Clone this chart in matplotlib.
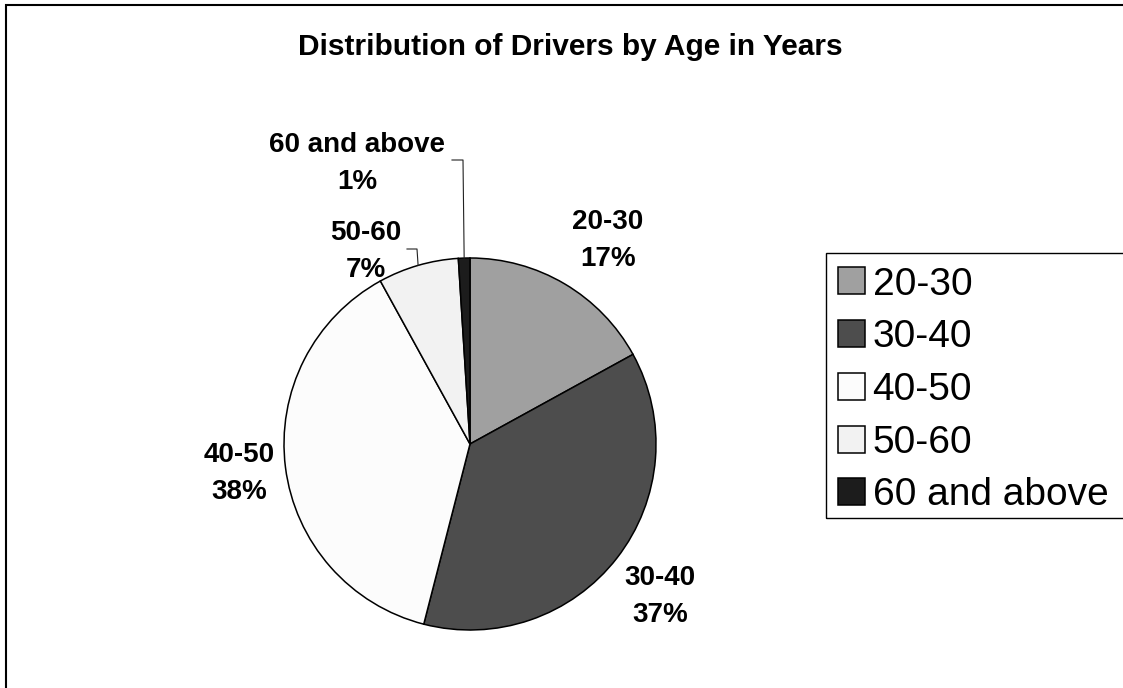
import matplotlib
matplotlib.use('Agg')
import matplotlib.pyplot as plt
from matplotlib.patches import Rectangle
import numpy as np

# ---- data ----
categories = ['20-30', '30-40', '40-50', '50-60', '60 and above']
shares = [17, 37, 38, 7, 1]
colors = ['#a0a0a0', '#4d4d4d', '#fcfcfc', '#f2f2f2', '#1c1c1c']
title = 'Distribution of Drivers by Age in Years'

# ---- layout (pixels from top-left) ----
W, H, DPI = 1123, 688, 100
cx, cy, R = 470, 444, 186
label_xy = [(608, 229), (660, 585), (239, 462), (366, 240), (357, 152)]
line_step = 37
leader_start = {3: [(407, 249), (417, 249)], 4: [(452, 160), (463, 160)]}

plt.rcParams['font.family'] = ['Liberation Sans', 'DejaVu Sans']
fig = plt.figure(figsize=(W / DPI, H / DPI), dpi=DPI)
fig.patch.set_facecolor('white')

ax = fig.add_axes([0, 0, 1, 1])
wedges, _ = ax.pie(shares, colors=colors, startangle=90, counterclock=False,
                   radius=1, wedgeprops=dict(edgecolor='black', linewidth=1.1))
ax.set_aspect('auto')
ax.set_xlim(-cx / R, (W - cx) / R)
ax.set_ylim(-(H - cy) / R, cy / R)
ax.axis('off')


def px(x, y):
    return (x - cx) / R, (cy - y) / R


for i, (name, val) in enumerate(zip(categories, shares)):
    x0, y0 = label_xy[i]
    tx, ty = px(x0, y0)
    ax.text(tx, ty, name, ha='center', va='baseline', fontsize=20, fontweight='bold')
    tx2, ty2 = px(x0, y0 + line_step)
    ax.text(tx2, ty2, f'{val}%', ha='center', va='baseline', fontsize=20, fontweight='bold')
    if i in leader_start:
        w = wedges[i]
        mid = np.deg2rad((w.theta1 + w.theta2) / 2)
        pts = [px(*p) for p in leader_start[i]] + [(np.cos(mid), np.sin(mid))]
        ax.plot([p[0] for p in pts], [p[1] for p in pts], color='#222222', lw=0.8)

fig.text(570 / W, 1 - 55 / H, title, ha='center', va='baseline',
         fontsize=21.5, fontweight='bold')

# legend frame (extends past the right edge, as in the cropped original)
frame = Rectangle((826 / W, 1 - 518 / H), (1135 - 826) / W, (518 - 253) / H,
                  transform=fig.transFigure, fill=False,
                  edgecolor='black', lw=1.0, zorder=6, clip_on=False)
ax.add_patch(frame)
leg = ax.legend(wedges, categories, loc='upper left',
                bbox_to_anchor=(838 / W, 1 - 266.5 / H), bbox_transform=fig.transFigure,
                prop={'size': 28}, frameon=False, handlelength=0.69, handleheight=0.69,
                handletextpad=0.2, labelspacing=0.43, borderpad=0, borderaxespad=0)
leg.set_zorder(5)

fig.add_artist(Rectangle((6 / W, -0.1), 2, 1 - 5 / H + 0.1, transform=fig.transFigure,
                         fill=False, lw=1.5, ec='black'))

fig.savefig('out.png', dpi=DPI)
